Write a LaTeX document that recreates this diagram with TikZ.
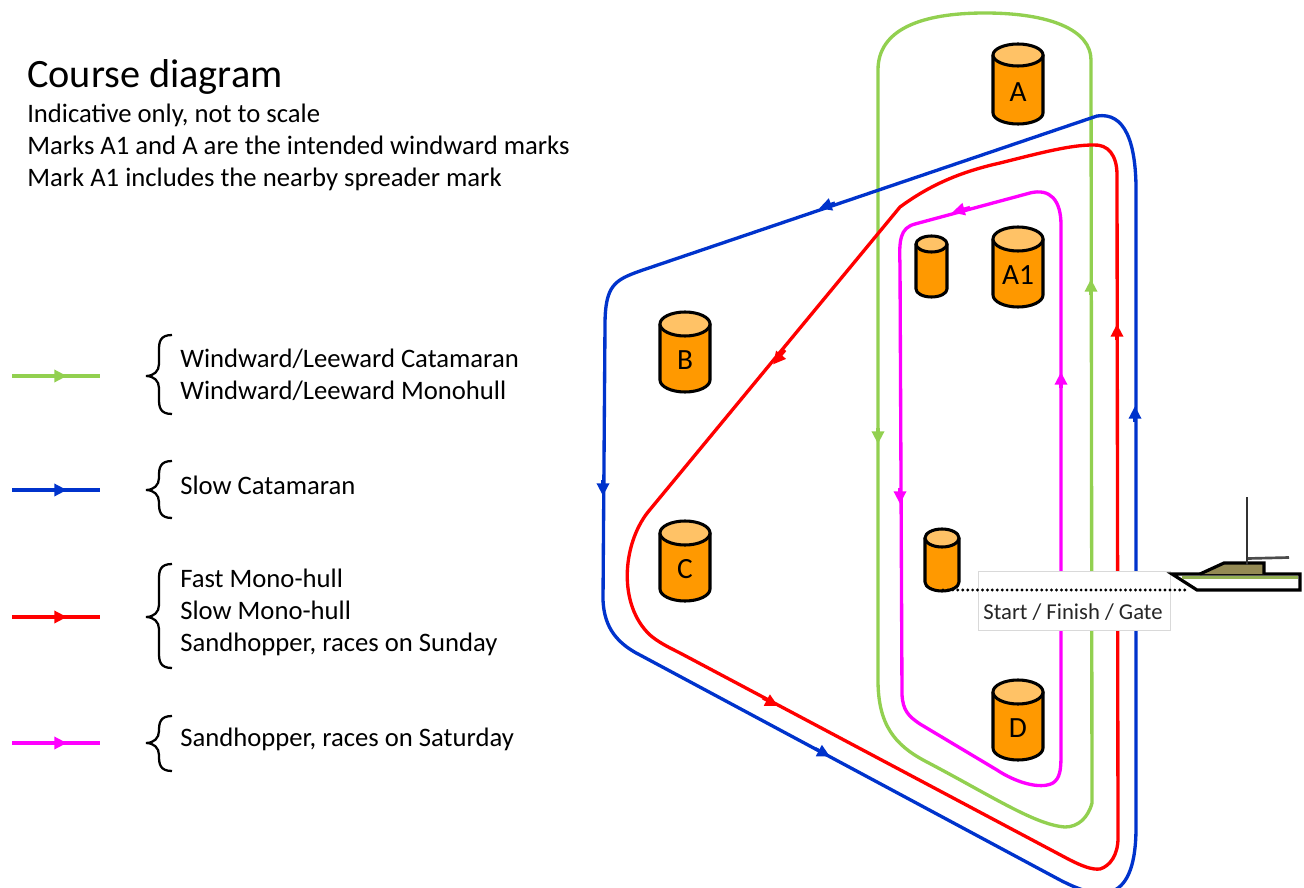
\documentclass[tikz,border=0pt]{standalone}
\usepackage{fontspec}
\setmainfont{Carlito}
\usepackage{tikz}
\usetikzlibrary{positioning,arrows.meta}
\definecolor{trackgreen}{HTML}{92D050}
\definecolor{trackblue}{HTML}{0033CC}
\definecolor{trackred}{HTML}{FF0000}
\definecolor{trackpink}{HTML}{FF00FF}
\definecolor{markorange}{HTML}{FF9900}
\definecolor{marktop}{HTML}{FFC266}
\definecolor{cabin}{HTML}{948A54}
\tikzset{
  buoyline/.style = {draw=black, line width=2.3pt, line join=round},
  buoytext/.style = {inner sep=0pt, font=\fontsize{22}{22}\selectfont},
  track/.style = {line width=2.5pt},
  head/.style = {-{Triangle[length=9.5pt,width=9pt]}, line width=2.5pt},
  legendtext/.style = {align=left, anchor=west, inner sep=0pt, font=\fontsize{20}{24}\selectfont}
}
% name, centre x, centre y, half width, half height, depth of the end ellipse, text
\newcommand{\buoy}[7]{
  \path[buoyline, fill=markorange] (#2-#4,#3-#5+#6) -- (#2-#4,#3+#5-#6)
    .. controls (#2-#4,#3+#5-.45*#6) and (#2-.55*#4,#3+#5) .. (#2,#3+#5)
    .. controls (#2+.55*#4,#3+#5) and (#2+#4,#3+#5-.45*#6) .. (#2+#4,#3+#5-#6)
    -- (#2+#4,#3-#5+#6) -- cycle;
  \path[buoyline, fill=marktop] (#2-#4,#3-#5+#6)
    .. controls (#2-#4,#3-#5+.45*#6) and (#2-.55*#4,#3-#5) .. (#2,#3-#5)
    .. controls (#2+.55*#4,#3-#5) and (#2+#4,#3-#5+.45*#6) .. (#2+#4,#3-#5+#6)
    .. controls (#2+#4,#3-#5+1.55*#6) and (#2+.55*#4,#3-#5+2*#6) .. (#2,#3-#5+2*#6)
    .. controls (#2-.55*#4,#3-#5+2*#6) and (#2-#4,#3-#5+1.55*#6) .. (#2-#4,#3-#5+#6) -- cycle;
  \node (#1) [buoytext] at (#2,#3+8) {#7};
}
\newcommand{\legendbrace}[3]{
  \draw[line width=1.7pt] (172,#1) .. controls (160,#1) and (159,#1+7) .. (159,#1+15) -- (159,#2-12)
    .. controls (159,#2-5) and (154,#2) .. (146,#2) .. controls (154,#2) and (159,#2+5) .. (159,#2+12)
    -- (159,#3-15) .. controls (159,#3-7) and (160,#3) .. (172,#3);
}
\begin{document}
\begin{tikzpicture}[x=0.75pt,y=-0.75pt]
    \clip (0,0) rectangle (1304,888);
    % heading
    \node (title) [anchor=base west, inner sep=0pt, font=\fontsize{30.2}{30}\selectfont] at (27,88) {Course diagram};
    \node (notes) [anchor=north west, inner sep=0pt, align=left, font=\fontsize{20}{24}\selectfont] at (27,104)
{Indicative only, not to scale\\Marks A1 and A are the intended windward marks\\Mark A1 includes the nearby spreader mark};
    % courses
    \draw[track,trackgreen] (1092,803) .. controls (1088,818) and (1078,827) .. (1065,827)
      .. controls (1035,825) and (990,795) .. (925,761) .. controls (895,745) and (878,725) .. (878,680)
      -- (878,70) .. controls (878,30) and (920,13) .. (985,13) .. controls (1050,13) and (1091,30) .. (1091,60) -- cycle;
    \draw[track,trackblue] (1136,197) .. controls (1137,140) and (1124,112) .. (1097,116)
      -- (640,271) .. controls (615,280) and (605,285) .. (605,325) -- (603,600)
      .. controls (604,622) and (612,641) .. (640,655) -- (1060,880)
      .. controls (1095,898) and (1135,910) .. (1136,830) -- cycle;
    \draw[track,trackred] (1117,175) .. controls (1117,155) and (1108,144) .. (1093,145)
      .. controls (1070,145) and (1040,153) .. (1000,163) .. controls (960,172) and (930,185) .. (900,207) -- (648,512)
      .. controls (622,545) and (618,605) .. (650,635) .. controls (658,642) and (668,647) .. (680,653) -- (1070,860)
      .. controls (1082,866) and (1092,870) .. (1100,869) .. controls (1110,866) and (1118,855) .. (1118,838) -- cycle;
    \draw[track,trackpink] (1061,225) .. controls (1061,200) and (1050,188) .. (1030,193)
      -- (915,224) .. controls (900,228) and (899,240) .. (900,265) -- (902,695)
      .. controls (903,710) and (908,716) .. (920,724) -- (997,770)
      .. controls (1015,782) and (1040,790) .. (1053,783) .. controls (1060,778) and (1061,770) .. (1061,755) -- cycle;
    % direction of travel
    \draw[head,trackgreen] (1091,295) -- (1091,279);
    \draw[head,trackgreen] (878,428) -- (878,444);
    \draw[head,trackblue] (603,480) -- (603,496);
    \draw[head,trackblue] (835,203) -- (819,208.5);
    \draw[head,trackblue] (815,748.5) -- (830,756.5);
    \draw[head,trackblue] (1135,422) -- (1135,406);
    \draw[head,trackred] (1117,340) -- (1117,324);
    \draw[head,trackred] (785,350) -- (773,364.5);
    \draw[head,trackred] (763,698) -- (778,706);
    \draw[head,trackpink] (970,207.5) -- (952,212.5);
    \draw[head,trackpink] (900,488) -- (900,504);
    \draw[head,trackpink] (1061,388) -- (1061,372);
    % marks
    \buoy{markA}{1018}{84}{25}{40}{11}{A}
    \buoy{markAone}{1018}{267}{25}{40}{12}{A1}
    \buoy{spreader}{931.5}{266.5}{15.5}{30.5}{8}{}
    \buoy{markB}{685}{352}{25}{40}{12}{B}
    \buoy{markC}{685}{561}{25}{40}{12}{C}
    \buoy{gatemark}{942}{560}{17}{31}{9}{}
    \buoy{markD}{1018}{720}{25}{40}{12}{D}
    % committee boat and gate
    \node (gate) [draw=black!15, fill=white, minimum width=144pt, minimum height=44pt, inner sep=0pt] at (1074,600.5) {};
    \node (gatetext) [inner sep=0pt, font=\fontsize{17}{17}\selectfont, text=black!85] at (1073,612) {Start / Finish / Gate};
    \draw[line width=2.4pt, line cap=round, dash pattern=on 0pt off 3.7pt, black] (943,590) -- (1186,590);
    \draw[line width=2.4pt, fill=white] (1172,574) -- (1300,574) -- (1300,590) -- (1197,590) -- cycle;
    \draw[line width=2pt, trackgreen!55!cabin] (1182,577.5) -- (1298,577.5);
    \draw[line width=2.4pt, fill=cabin] (1200,574) -- (1224,563) -- (1264,563) -- (1264,574);
    \draw[line width=2.2pt, black!80] (1247,497) -- (1247,565);
    \draw[line width=2pt, black!70] (1248,558.5) -- (1289,557.5);
    % legend
    \draw[track,trackgreen] (12,376) -- (100,376);
    \draw[head,trackgreen] (50,376) -- (67,376);
    \draw[track,trackblue] (12,490) -- (100,490);
    \draw[head,trackblue] (50,490) -- (67,490);
    \draw[track,trackred] (12,617) -- (100,617);
    \draw[head,trackred] (50,617) -- (67,617);
    \draw[track,trackpink] (12,743) -- (100,743);
    \draw[head,trackpink] (50,743) -- (67,743);
    \legendbrace{335}{376}{414}
    \legendbrace{461}{490}{518}
    \legendbrace{564}{617}{668}
    \legendbrace{716}{743}{771}
    \node (legendA) [legendtext] at (180,375) {Windward/Leeward Catamaran\\Windward/Leeward Monohull};
    \node (legendB) [legendtext] at (180,485) {Slow Catamaran};
    \node (legendC) [legendtext] at (180,612) {Fast Mono-hull\\Slow Mono-hull\\Sandhopper, races on Sunday};
    \node (legendD) [legendtext] at (180,739) {Sandhopper, races on Saturday};
\end{tikzpicture}
\end{document}
